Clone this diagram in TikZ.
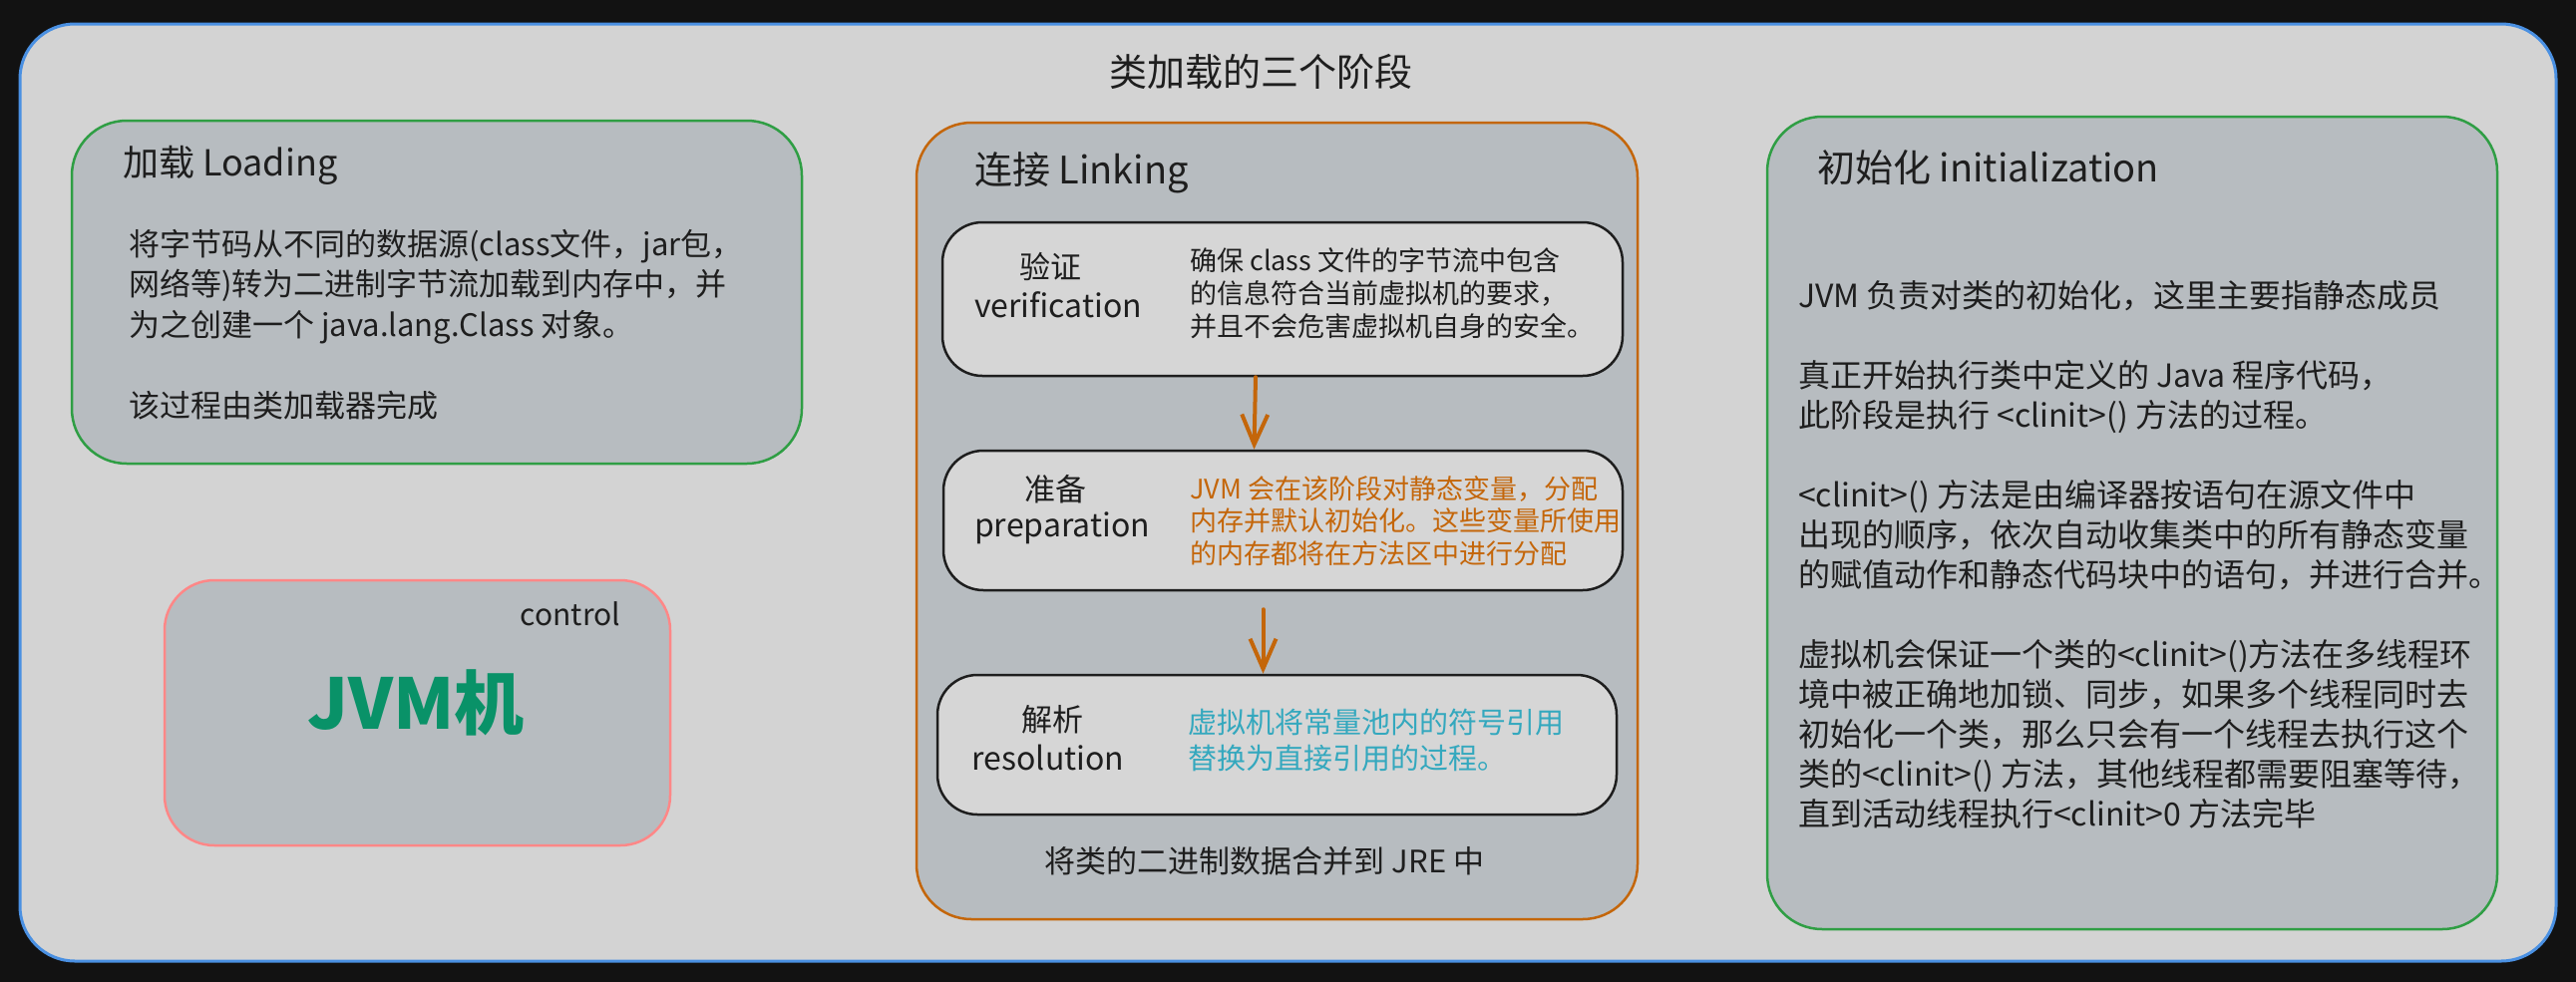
\documentclass[tikz,border=0pt]{standalone}
\usepackage{fontspec}
\setmainfont{Noto Sans CJK SC}
\usetikzlibrary{arrows.meta}
\definecolor{bgdark}{RGB}{18,18,18}
\definecolor{outerfill}{RGB}{211,211,211}
\definecolor{outerline}{RGB}{74,144,226}
\definecolor{boxfill}{RGB}{183,188,192}
\definecolor{innerfill}{RGB}{214,214,214}
\definecolor{greenline}{RGB}{47,158,68}
\definecolor{redline}{RGB}{255,135,135}
\definecolor{orangeline}{RGB}{196,102,10}
\definecolor{jvmgreen}{RGB}{9,146,104}
\definecolor{bluetext}{RGB}{52,168,190}
\definecolor{inktext}{RGB}{30,30,30}
\tikzset{
  stagebox/.style={draw, line width=2.5pt, fill=boxfill, rounded corners=55pt, inner sep=0pt},
  stepbox/.style={draw=inktext, line width=2.5pt, fill=innerfill, rounded corners=40pt, inner sep=0pt},
  txt/.style={inner sep=0pt, text=inktext, align=left},
  arr/.style={draw=orangeline, line width=4pt, line cap=round, -{Straight Barb[length=30pt,width=26pt,line width=4pt]}},
}
\begin{document}
\begin{tikzpicture}[x=1pt,y=-1pt]
\fill[bgdark] (0,0) rectangle (2583,985);
\useasboundingbox (0,0) rectangle (2583,985);
% outer frame
\node[draw=outerline, line width=3pt, fill=outerfill, rounded corners=55pt, minimum width=2543pt, minimum height=940pt, inner sep=0pt] (outer) at (1291.5,494) {};
\node[txt, font=\fontsize{38}{44}\selectfont] (title) at (1264,72) {类加载的三个阶段};

% Loading
\node[stagebox, draw=greenline, minimum width=732pt, minimum height=344pt] (load) at (438,293) {};
\node[txt, anchor=north west, font=\fontsize{36}{42}\selectfont] (loadtitle) at (123,146) {加载 Loading};
\node[txt, anchor=north west, font=\fontsize{31}{40.5}\selectfont] (loadbody) at (129,230)
  {将字节码从不同的数据源(class文件，jar包，\\网络等)转为二进制字节流加载到内存中，并\\为之创建一个 java.lang.Class 对象。\\[40.5pt]该过程由类加载器完成};

% JVM
\node[stagebox, draw=redline, rounded corners=50pt, minimum width=507pt, minimum height=266pt] (jvm) at (418.5,715) {};
\node[txt, font=\fontsize{30}{36}\selectfont] (control) at (572,616) {control};
\node[inner sep=0pt, text=jvmgreen, font=\fontsize{70}{80}\selectfont\bfseries] (jvmtext) at (417,705) {JVM机};

% Linking
\node[stagebox, draw=orangeline, minimum width=723pt, minimum height=799pt] (link) at (1280.5,522.5) {};
\node[txt, anchor=north west, font=\fontsize{38}{44}\selectfont] (linktitle) at (977,152) {连接 Linking};

\node[stepbox, minimum width=682pt, minimum height=154pt] (verify) at (1286,300) {};
\node[txt, font=\fontsize{31}{36}\selectfont] (verifyzh) at (1053,267) {验证};
\node[txt, font=\fontsize{32}{36}\selectfont] (verifyen) at (1061,306) {verification};
\node[txt, anchor=north west, font=\fontsize{27}{33}\selectfont] (verifytext) at (1193,248)
  {确保 class 文件的字节流中包含\\的信息符合当前虚拟机的要求，\\并且不会危害虚拟机自身的安全。};

\node[stepbox, minimum width=681pt, minimum height=140pt] (prep) at (1286.5,522) {};
\node[txt, font=\fontsize{31}{36}\selectfont] (prepzh) at (1058,491) {准备};
\node[txt, font=\fontsize{32}{36}\selectfont] (prepen) at (1065,530) {preparation};
\node[txt, anchor=north west, text=orangeline, font=\fontsize{27}{32.5}\selectfont] (preptext) at (1193,477)
  {JVM 会在该阶段对静态变量，分配\\内存并默认初始化。这些变量所使用\\的内存都将在方法区中进行分配};

\node[stepbox, minimum width=681pt, minimum height=140pt] (res) at (1280.5,747) {};
\node[txt, font=\fontsize{31}{36}\selectfont] (reszh) at (1055,722) {解析};
\node[txt, font=\fontsize{32}{36}\selectfont] (resen) at (1051,760) {resolution};
\node[txt, anchor=north west, text=bluetext, font=\fontsize{29}{36}\selectfont] (restext) at (1191,711)
  {虚拟机将常量池内的符号引用\\替换为直接引用的过程。};

\node[txt, font=\fontsize{31}{36}\selectfont] (linkcap) at (1268,864) {将类的二进制数据合并到 JRE 中};

\draw[arr] ([xshift=-27pt]verify.south) -- ([xshift=-29pt]prep.north);
\draw[arr] ([xshift=-20pt,yshift=-18pt]prep.south) -- ([xshift=-14pt]res.north);

% Initialization
\node[stagebox, draw=greenline, minimum width=732pt, minimum height=815pt] (init) at (2138,524.5) {};
\node[txt, anchor=north west, font=\fontsize{38}{44}\selectfont] (inittitle) at (1822,150) {初始化 initialization};
\node[txt, anchor=north west, font=\fontsize{32}{40}\selectfont] (initbody) at (1803,281)
  {JVM 负责对类的初始化，这里主要指静态成员\\[40pt]
   真正开始执行类中定义的 Java 程序代码，\\此阶段是执行 <clinit>() 方法的过程。\\[40pt]
   <clinit>() 方法是由编译器按语句在源文件中\\出现的顺序，依次自动收集类中的所有静态变量\\的赋值动作和静态代码块中的语句，并进行合并。\\[40pt]
   虚拟机会保证一个类的<clinit>()方法在多线程环\\境中被正确地加锁、同步，如果多个线程同时去\\初始化一个类，那么只会有一个线程去执行这个\\类的<clinit>() 方法，其他线程都需要阻塞等待，\\直到活动线程执行<clinit>0 方法完毕};
\end{tikzpicture}
\end{document}
